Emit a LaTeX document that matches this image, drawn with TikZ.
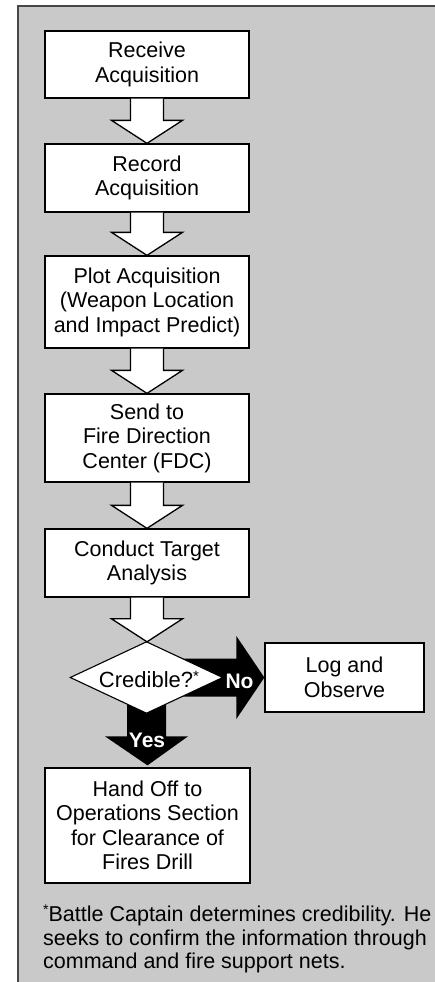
\documentclass[tikz,border=0pt]{standalone}
\usepackage{fontspec}
\setmainfont{Liberation Sans}
\usetikzlibrary{calc}

\definecolor{panel}{RGB}{201,201,201}
\definecolor{rim}{RGB}{70,70,70}

\tikzset{
  stepbox/.style={draw=black, line width=1.3pt, fill=white, align=center,
    minimum width=204pt, inner sep=0pt,
    font=\fontsize{21.5}{24.5}\selectfont},
  decision/.style={inner sep=0pt, minimum width=152pt, minimum height=71pt,
    font=\fontsize{22}{24.5}\selectfont},
  rhombus/.style={draw=black, line width=1.1pt, fill=white, line join=miter},
  flowarrow/.style={draw=black, line width=1.3pt, fill=white, line join=miter},
  branch/.style={fill=black},
  branchlabel/.style={text=white, font=\bfseries\fontsize{21}{22}\selectfont, inner sep=0pt},
}

% hollow block arrow from the bottom of one node to the top of the next
\newcommand{\blockarrow}[2]{%
  \path[flowarrow] let \p1=(#1.south), \p2=(#2.north) in
    (\x1-16.5pt,\y1) -- (\x1-16.5pt,\y2+23pt) -- (\x1-35.5pt,\y2+23pt)
    -- (\x1,\y2) -- (\x1+35.5pt,\y2+23pt) -- (\x1+16.5pt,\y2+23pt)
    -- (\x1+16.5pt,\y1);}

\begin{document}
\begin{tikzpicture}[x=1pt,y=-1pt]
\useasboundingbox (0,0) rectangle (434,982);

% shaded panel with its frame
\fill[panel] (18,6) rectangle (440,990);
\draw[rim, line width=2pt] (18,990) -- (18,6) -- (440,6);

% process steps
\node[stepbox, minimum height=67pt] (receive) at (147,64.5) {Receive\\Acquisition};
\node[stepbox, minimum height=68pt] (record) at (147,178) {Record\\Acquisition};
\node[stepbox, minimum height=92pt] (plot) at (147,302) {Plot Acquisition\\(Weapon Location\\and Impact Predict)};
\node[stepbox, minimum height=88pt] (send) at (147,438) {Send to\\Fire Direction\\Center (FDC)};
\node[stepbox, minimum height=68pt] (conduct) at (147,563) {Conduct Target\\Analysis};
\node[stepbox, minimum width=159pt, minimum height=69pt] (log) at (344.5,677.5) {Log and\\Observe};
\node[stepbox, minimum width=205pt, minimum height=115pt] (handoff) at (147.5,825.5)
  {Hand Off to\\Operations Section\\for Clearance of\\Fires Drill};

\coordinate (dc) at (146.5,677.5);

% black branch arrows, drawn beneath the decision diamond
\path[branch] let \p1=(dc), \p2=(log.west) in
  (\x1,\y1+19pt) -- (\x2-28pt,\y1+19pt) -- (\x2-28pt,\y1+41.5pt) -- (\x2,\y1)
  -- (\x2-28pt,\y1-41.5pt) -- (\x2-28pt,\y1-19pt) -- (\x1,\y1-19pt) -- cycle;
\path[branch] let \p1=(dc), \p2=(handoff.north) in
  (\x1-19.5pt,\y1) -- (\x1-19.5pt,\y2+31pt) -- (\x1-41.5pt,\y2+31pt) -- (\x2,\y2+2pt)
  -- (\x1+41.5pt,\y2+31pt) -- (\x1+19.5pt,\y2+31pt) -- (\x1+19.5pt,\y1) -- cycle;

% decision diamond
\node[decision] (credible) at (dc) {};
\draw[rhombus] (credible.north) -- (credible.east) -- (credible.south)
  -- (credible.west) -- cycle;
\node[inner sep=0pt, font=\fontsize{22}{24.5}\selectfont] (question) at (149,679)
  {Credible?\raisebox{6pt}{\fontsize{15}{15}\selectfont*}};

\node[branchlabel] (no) at (239.5,681) {No};
\node[branchlabel] (yes) at (147,740) {Yes};

% hollow arrows between the steps
\blockarrow{receive}{record}
\blockarrow{record}{plot}
\blockarrow{plot}{send}
\blockarrow{send}{conduct}
\blockarrow{conduct}{credible}

% footnote
\node[anchor=north west, align=left, inner sep=0pt,
  font=\fontsize{21.5}{23.2}\selectfont] (note) at (43,905)
  {\raisebox{7pt}{\fontsize{14}{14}\selectfont*}Battle Captain determines credibility. He\\
   seeks to confirm the information through\\
   command and fire support nets.};
\end{tikzpicture}
\end{document}
